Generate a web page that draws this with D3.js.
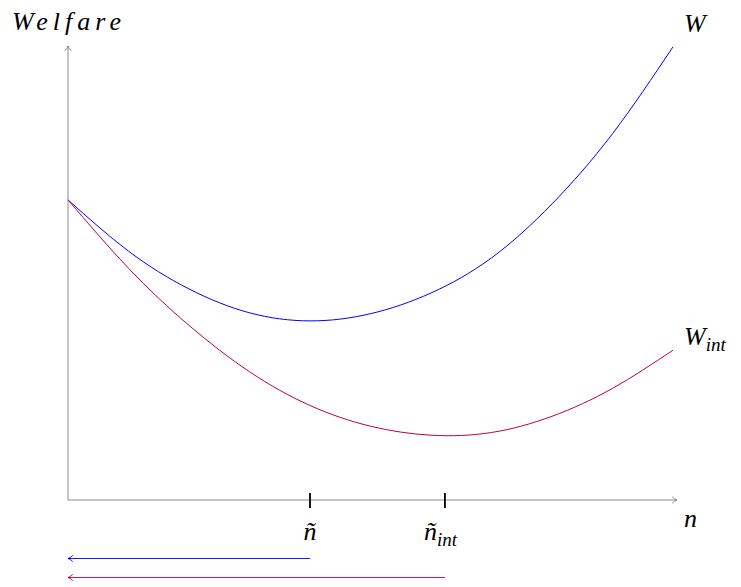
<!DOCTYPE html>
<html>
<head>
<meta charset="utf-8">
<script src="https://cdn.jsdelivr.net/npm/d3@7"></script>
<style>
  body { margin: 0; background: #fff; }
  svg text.lbl { font: italic 26px "Liberation Serif"; }
</style>
</head>
<body>
<svg id="chart" width="741" height="587"></svg>
<script>
// values (n from 0 to 10, welfare in arbitrary units)
let nValues = [0, 1, 2, 3, 4, 5, 6, 7, 8, 9, 10];
let welfare = [6.67, 5.53, 4.69, 4.16, 3.98, 4.14, 4.6, 5.38, 6.58, 8.14, 10.07];
let welfareInt = [6.67, 5.15, 3.88, 2.85, 2.1, 1.64, 1.44, 1.5, 1.86, 2.48, 3.33];
let nTilde = 4.0;
let nTildeInt = 6.23;

let svg = d3.select('#chart');

let xScale = d3.scaleLinear().domain([0, 10]).range([68, 673]);
let yScale = d3.scaleLinear().domain([0, 10]).range([500, 50]);

// labels
function label(x, y, anchor){
    return svg.append('text').attr('class', 'lbl')
        .attr('x', x).attr('y', y)
        .attr('text-anchor', anchor || 'start');
}
label(12, 30).style('letter-spacing', '5px').text('Welfare');
label(684, 32).text('W');
let wi = label(684, 345);
wi.append('tspan').text('W');
wi.append('tspan').style('font-size', '19px').attr('dy', 6).text('int');
label(684, 527).text('n');

label(xScale(nTilde), 540, 'middle').text('ñ');
let ti = label(xScale(nTildeInt) - 21, 540);
ti.append('tspan').text('ñ');
ti.append('tspan').style('font-size', '19px').attr('dy', 6).text('int');

let defs = svg.append('defs');
function addArrow(id, color){
    defs.append('marker')
        .attr('id', id)
        .attr('viewBox', '0 0 10 10')
        .attr('refX', 9).attr('refY', 5)
        .attr('markerWidth', 8).attr('markerHeight', 8)
        .attr('markerUnits', 'userSpaceOnUse')
        .attr('orient', 'auto')
        .append('path')
        .attr('d', 'M3,1 Q6,4 9,5 Q6,6 3,9')
        .attr('fill', 'none')
        .attr('stroke', color)
        .attr('stroke-width', 1.1);
}
addArrow('arrGray', '#808080');
addArrow('arrBlue', '#0000ff');
addArrow('arrRed', '#bf0040');

// axes
svg.append('line')
    .attr('x1', xScale(0)).attr('y1', yScale(0))
    .attr('x2', xScale(0)).attr('y2', 46)
    .attr('stroke', '#808080').attr('stroke-width', 0.9)
    .attr('marker-end', 'url(#arrGray)');
svg.append('line')
    .attr('x1', xScale(0)).attr('y1', yScale(0))
    .attr('x2', 677).attr('y2', yScale(0))
    .attr('stroke', '#808080').attr('stroke-width', 0.9)
    .attr('marker-end', 'url(#arrGray)');

// curves
let line = d3.line()
    .x((d, i) => xScale(nValues[i]))
    .y(d => yScale(d))
    .curve(d3.curveNatural);

svg.append('path')
    .attr('d', line(welfare))
    .attr('fill', 'none')
    .attr('stroke', '#0000ff')
    .attr('stroke-width', 1);
svg.append('path')
    .attr('d', line(welfareInt))
    .attr('fill', 'none')
    .attr('stroke', '#bf0040')
    .attr('stroke-width', 1);

// ticks at the minima
[nTilde, nTildeInt].forEach(v => {
    svg.append('line')
        .attr('x1', xScale(v)).attr('x2', xScale(v))
        .attr('y1', yScale(0) - 7).attr('y2', yScale(0) + 8)
        .attr('stroke', '#000').attr('stroke-width', 1.8);
});

// arrows pointing back toward the origin
svg.append('line')
    .attr('x1', xScale(nTilde)).attr('y1', 558.5)
    .attr('x2', xScale(0)).attr('y2', 558.5)
    .attr('stroke', '#0000ff').attr('stroke-width', 0.9)
    .attr('marker-end', 'url(#arrBlue)');
svg.append('line')
    .attr('x1', xScale(nTildeInt)).attr('y1', 577.5)
    .attr('x2', xScale(0)).attr('y2', 577.5)
    .attr('stroke', '#bf0040').attr('stroke-width', 0.9)
    .attr('marker-end', 'url(#arrRed)');
</script>
</body>
</html>
